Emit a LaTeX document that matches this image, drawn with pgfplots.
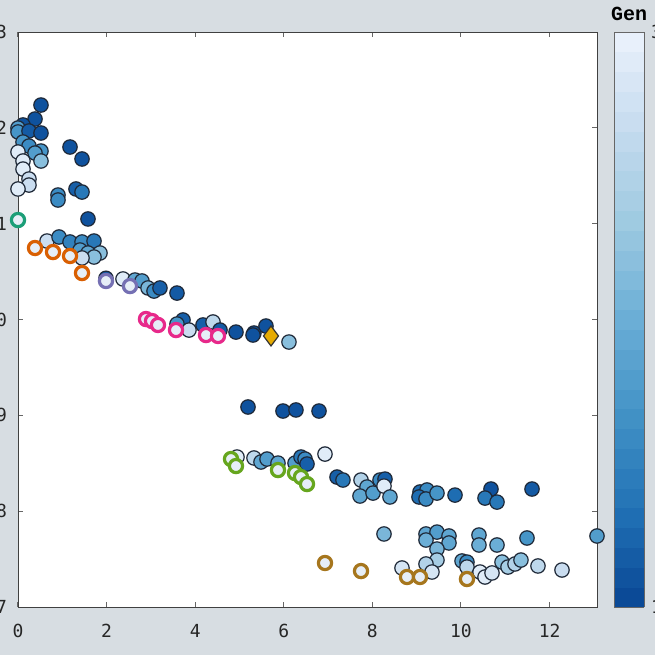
\documentclass[border=0pt]{standalone}
\usepackage{pgfplots}
\pgfplotsset{compat=1.18}
\usepackage{pgfplotstable}
\usepackage{fontspec}
\setmonofont{DejaVu Sans Mono}
\newfontfamily\genfont{Liberation Mono}
\definecolor{bgc}{RGB}{215,221,226}
\definecolor{edgec}{RGB}{30,40,55}
\definecolor{cteal}{RGB}{27,158,119}
\definecolor{corange}{RGB}{217,95,2}
\definecolor{cpurple}{RGB}{117,112,179}
\definecolor{cpink}{RGB}{231,41,138}
\definecolor{clime}{RGB}{102,166,30}
\definecolor{cyellow}{RGB}{230,171,2}
\definecolor{cgold}{RGB}{166,118,29}
\definecolor{hollowfill}{RGB}{230,238,247}

\pgfplotstableread{
x y c
0.519 12.238 0.05
0.384 12.092 0.05
0.113 12.030 0.05
0.000 11.998 0.40
0.000 11.957 0.35
0.248 11.967 0.08
0.519 11.946 0.05
0.113 11.852 0.35
0.248 11.810 0.30
0.519 11.758 0.35
0.384 11.737 0.40
0.000 11.748 0.95
0.519 11.654 0.60
0.113 11.654 0.95
0.113 11.570 0.95
0.248 11.466 0.85
0.248 11.403 0.85
0.000 11.362 0.95
1.174 11.800 0.05
1.445 11.675 0.05
0.903 11.299 0.30
0.903 11.247 0.30
1.309 11.362 0.10
1.445 11.330 0.20
1.580 11.049 0.05
0.655 10.819 0.85
0.926 10.861 0.30
1.174 10.809 0.25
1.445 10.809 0.30
1.716 10.819 0.20
1.400 10.725 0.40
1.580 10.694 0.45
1.851 10.694 0.60
1.716 10.652 0.60
1.445 10.642 0.85
1.986 10.430 0.08
2.370 10.423 0.95
2.641 10.412 0.45
2.799 10.402 0.40
2.935 10.329 0.55
3.070 10.297 0.30
3.205 10.329 0.10
3.589 10.276 0.08
3.725 9.995 0.10
3.589 9.953 0.35
3.860 9.890 0.85
4.176 9.943 0.10
4.402 9.974 0.80
4.560 9.890 0.08
4.921 9.869 0.05
5.327 9.859 0.05
5.305 9.838 0.05
5.598 9.932 0.05
6.117 9.765 0.60
5.192 9.087 0.05
5.982 9.045 0.05
6.275 9.056 0.05
6.795 9.045 0.05
4.944 8.565 0.95
5.327 8.555 0.80
5.485 8.513 0.45
5.621 8.544 0.40
5.869 8.502 0.45
6.253 8.502 0.40
6.388 8.565 0.20
6.479 8.544 0.30
6.524 8.492 0.10
6.930 8.596 0.95
7.201 8.356 0.10
7.336 8.325 0.20
7.743 8.325 0.75
7.878 8.252 0.45
7.720 8.158 0.45
8.014 8.189 0.40
8.172 8.325 0.30
8.284 8.335 0.10
8.262 8.262 0.95
8.397 8.148 0.45
9.074 8.200 0.15
9.233 8.221 0.30
9.052 8.148 0.15
9.210 8.127 0.30
9.458 8.189 0.35
9.865 8.168 0.15
10.677 8.231 0.05
10.542 8.137 0.20
10.813 8.095 0.20
11.603 8.231 0.08
8.262 7.762 0.55
9.210 7.762 0.45
9.458 7.782 0.40
9.729 7.741 0.45
9.210 7.699 0.50
9.729 7.668 0.45
10.406 7.751 0.45
10.406 7.647 0.50
10.813 7.647 0.50
11.490 7.720 0.35
13.070 7.741 0.40
9.458 7.605 0.55
9.458 7.490 0.70
9.210 7.449 0.75
8.668 7.407 0.90
9.345 7.365 0.90
10.023 7.480 0.45
10.135 7.469 0.30
10.135 7.417 0.80
10.429 7.365 0.95
10.542 7.313 0.95
10.700 7.355 0.90
10.926 7.469 0.60
11.061 7.417 0.70
11.219 7.449 0.75
11.354 7.490 0.60
11.738 7.428 0.80
12.280 7.386 0.85
}\pts

\begin{document}
\begin{tikzpicture}
\fill[bgc] (-9pt,-24pt) rectangle (318.5pt,303.5pt);
\begin{axis}[
  at={(0,0)}, anchor=south west,
  scale only axis, width=289.5pt, height=287.5pt,
  xmin=0, xmax=13.07, ymin=7, ymax=13,
  xtick={0,2,...,12}, ytick={7,8,...,13},
  clip=false,
  axis background/.style={fill=white},
  axis line style={draw=black!75},
  tick align=inside, major tick length=2.5pt,
  tick style={black!60, line width=0.5pt},
  minor tick num=0,
  tick label style={font=\ttfamily\fontsize{9}{10}\selectfont, text=black!85},
  /pgf/number format/assume math mode=true,
  xticklabel style={yshift=-5pt},
  yticklabel style={xshift=-2pt},
  colormap={gen}{rgb255=(8,69,148); rgb255=(33,113,181); rgb255=(66,146,198); rgb255=(107,174,214); rgb255=(158,202,225); rgb255=(198,219,239); rgb255=(236,243,252)},
  point meta min=0, point meta max=1,
  colorbar, colorbar sampled,
  colorbar style={
    samples=30,
    at={(parent axis.north east)}, anchor=north west, xshift=0pt,
    width=15pt,
    axis line style={draw=black!60},
    ytick={0,1}, yticklabels={1,30},
    tick style={black!60},
    major tick length=2pt,
    yticklabel style={font=\ttfamily\fontsize{9}{10}\selectfont},
    title={\genfont\bfseries Gen},
    title style={font=\fontsize{10}{11}\selectfont, yshift=-4pt},
  },
]
\addplot[scatter, only marks, mark=*, mark size=3.6pt,
  point meta=explicit,
  scatter/use mapped color={draw=edgec, fill=mapped color, line width=0.6pt}]
  table[x=x, y=y, meta=c] {\pts};

\addplot[only marks, mark=*, mark size=3.3pt,
  mark options={draw=cteal, fill=hollowfill, line width=1.6pt}]
  coordinates {(0,11.038)};
\addplot[only marks, mark=*, mark size=3.3pt,
  mark options={draw=corange, fill=hollowfill, line width=1.6pt}]
  coordinates {(0.384,10.746) (0.790,10.704) (1.174,10.663) (1.445,10.485)};
\addplot[only marks, mark=*, mark size=3.3pt,
  mark options={draw=cpurple, fill=hollowfill, line width=1.6pt}]
  coordinates {(1.986,10.402) (2.528,10.349)};
\addplot[only marks, mark=*, mark size=3.3pt,
  mark options={draw=cpink, fill=hollowfill, line width=1.6pt}]
  coordinates {(2.889,10.005) (3.025,9.984) (3.160,9.943) (3.567,9.890) (4.244,9.838) (4.515,9.828)};
\addplot[only marks, mark=diamond*, mark size=5pt,
  mark options={draw=black!80, fill=cyellow, line width=0.6pt}]
  coordinates {(5.711,9.828)};
\addplot[only marks, mark=*, mark size=3.3pt,
  mark options={draw=clime, fill=hollowfill, line width=1.6pt}]
  coordinates {(4.808,8.544) (4.921,8.471) (5.869,8.429) (6.253,8.398) (6.388,8.356) (6.524,8.283)};
\addplot[only marks, mark=*, mark size=3.3pt,
  mark options={draw=cgold, fill=hollowfill, line width=1.6pt}]
  coordinates {(6.930,7.459) (7.743,7.375) (8.781,7.313) (9.074,7.313) (10.135,7.292)};
\end{axis}
\pgfresetboundingbox
\path[use as bounding box] (-9pt,-24pt) rectangle (318.5pt,303.5pt);
\end{tikzpicture}
\end{document}
